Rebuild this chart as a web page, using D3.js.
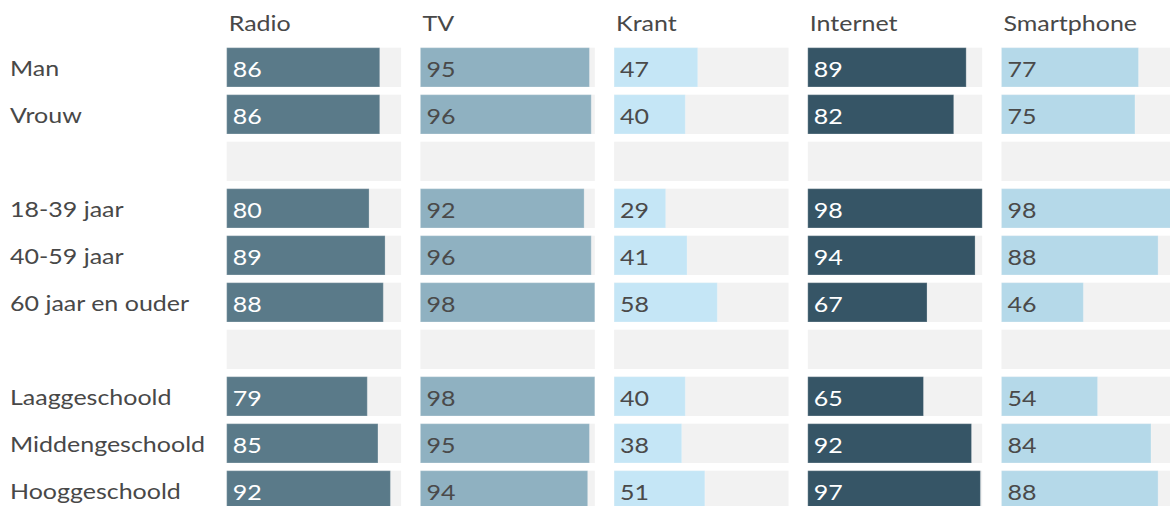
<!DOCTYPE html>
<html>
<head>
<meta charset="utf-8">
<script src="https://cdn.jsdelivr.net/npm/d3@7"></script>
<style>
  body { margin: 0; background: #fff; }
  text { font-family: Lato, "Open Sans", sans-serif; }
</style>
</head>
<body>
<div id="chart"></div>
<script>
// Row labels (empty strings are spacer rows)
var rows = ['Man', 'Vrouw', '', '18-39 jaar', '40-59 jaar', '60 jaar en ouder', '', 'Laaggeschoold', 'Middengeschoold', 'Hooggeschoold'];

// Media columns
var media = ['Radio', 'TV', 'Krant', 'Internet', 'Smartphone'];

// Values per medium, per row
var radio = [86, 86, null, 80, 89, 88, null, 79, 85, 92];
var tv = [95, 96, null, 92, 96, 98, null, 98, 95, 94];
var krant = [47, 40, null, 29, 41, 58, null, 40, 38, 51];
var internet = [89, 82, null, 98, 94, 67, null, 65, 92, 97];
var smartphone = [77, 75, null, 98, 88, 46, null, 54, 84, 88];

var values = { Radio: radio, TV: tv, Krant: krant, Internet: internet, Smartphone: smartphone };
var colors = { Radio: '#5a7a89', TV: '#8fb1c1', Krant: '#c5e6f6', Internet: '#365566', Smartphone: '#b5d9e9' };
var labelColors = { Radio: '#fff', TV: '#4a4a4a', Krant: '#4a4a4a', Internet: '#fff', Smartphone: '#4a4a4a' };

var width = 1170, height = 506;
// text in the original is drawn a bit wider than normal
var stretch = 1.19;

var svg = d3.select('#chart')
    .append('svg')
    .attr('width', width)
    .attr('height', height);

// Column and row positions
var colScale = d3.scaleBand()
    .domain(media)
    .range([226.7, 226.7 + 4 * 193.7 + 174.4])
    .paddingInner(0.0996)
    .paddingOuter(0);

var rowScale = d3.scaleBand()
    .domain(d3.range(rows.length))
    .range([47.7, 47.7 + 9 * 47 + 39.3])
    .paddingInner(0.164)
    .paddingOuter(0);

// Bar length inside a column
var xScale = d3.scaleLinear()
    .domain([0, 98])
    .range([0, colScale.bandwidth()]);

function place(x, y) {
    return 'translate(' + x + ',' + y + ') scale(' + stretch + ',1)';
}

// Row labels
svg.append('g').selectAll('text')
    .data(rows)
    .enter().append('text')
    .attr('transform', function(d, i) { return place(10, rowScale(i) + rowScale.bandwidth() / 2 + 8.5); })
    .attr('font-size', 21)
    .attr('fill', '#484848')
    .text(function(d) { return d; });

// One group per medium
var cols = svg.selectAll('g.col')
    .data(media)
    .enter().append('g')
    .attr('class', 'col')
    .attr('transform', function(d) { return 'translate(' + colScale(d) + ',0)'; });

// Column titles
cols.append('text')
    .attr('transform', place(2, 31))
    .attr('font-size', 21)
    .attr('fill', '#484848')
    .text(function(d) { return d; });

// Gray background bars
cols.selectAll('rect.bg')
    .data(function(d) { return rows.map(function(r, i) { return i; }); })
    .enter().append('rect')
    .attr('class', 'bg')
    .attr('x', 0)
    .attr('y', function(i) { return rowScale(i); })
    .attr('width', colScale.bandwidth())
    .attr('height', rowScale.bandwidth())
    .attr('fill', '#f2f2f2');

// Value bars
cols.each(function(m) {
    var g = d3.select(this);
    var data = values[m].map(function(v, i) { return { v: v, i: i }; })
        .filter(function(d) { return d.v !== null; });

    g.selectAll('rect.bar')
        .data(data)
        .enter().append('rect')
        .attr('class', 'bar')
        .attr('x', 0)
        .attr('y', function(d) { return rowScale(d.i); })
        .attr('width', function(d) { return xScale(d.v); })
        .attr('height', rowScale.bandwidth())
        .attr('fill', colors[m])
        .attr('stroke', 'rgba(255,255,255,0.25)')
        .attr('stroke-width', 1);

    g.selectAll('text.val')
        .data(data)
        .enter().append('text')
        .attr('class', 'val')
        .attr('transform', function(d) { return place(6, rowScale(d.i) + rowScale.bandwidth() / 2 + 10); })
        .attr('font-size', 21)
        .attr('fill', labelColors[m])
        .text(function(d) { return d.v; });
});
</script>
</body>
</html>
